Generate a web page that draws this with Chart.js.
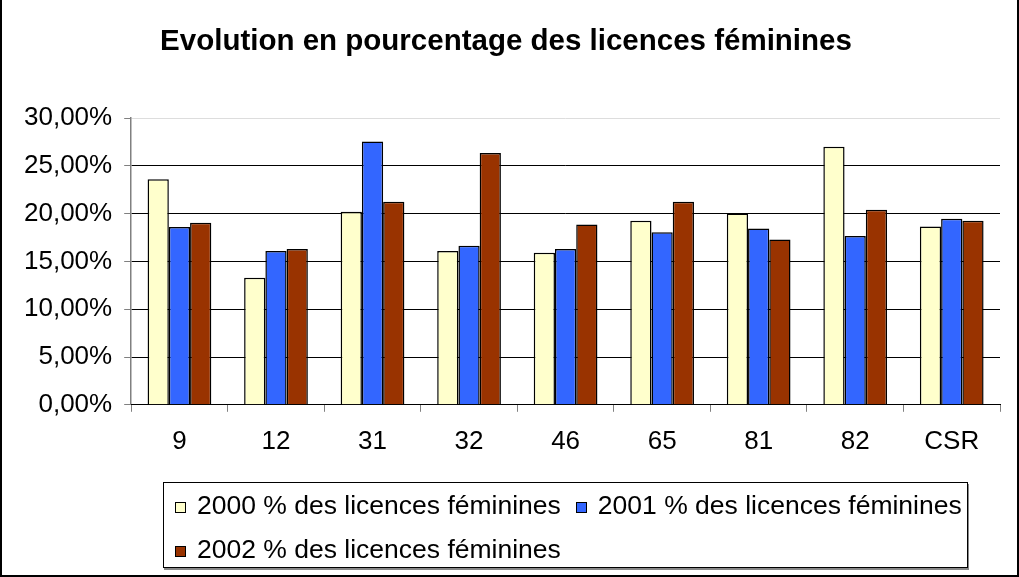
<!DOCTYPE html>
<html lang="fr">

<head>
    <meta charset="UTF-8">
    <title>Evolution en pourcentage des licences féminines</title>
    <script src="https://cdn.jsdelivr.net/npm/chart.js@4.4.1/dist/chart.umd.min.js"></script>
    <style>
        body { margin: 0; background: #fff; }
        .cadre {
            position: relative;
            width: 1019px;
            height: 577px;
            box-sizing: border-box;
            border-left: 2px solid #000;
            border-right: 2px solid #000;
            border-bottom: 2px solid #000;
            font-family: "Liberation Sans", Arial, sans-serif;
        }
        #grafico { position: absolute; left: -2px; top: 0; }
        .legende {
            position: absolute;
            left: 161px;
            top: 482px;
            width: 805px;
            height: 86px;
            box-sizing: border-box;
            border: 1px solid #000;
            box-shadow: 1px 2px 0 #888;
            padding: 0 0 0 11px;
            font-size: 26.5px;
            line-height: 44px;
            color: #000;
            white-space: nowrap;
        }
        .item { display: inline-block; margin-right: 15px; }
        .carre {
            display: inline-block;
            width: 9px;
            height: 9px;
            border: 1.5px solid #000;
            margin-right: 11px;
            vertical-align: 1px;
        }
    </style>
</head>

<body>
    <div class="cadre">
        <canvas id="grafico" width="1019" height="577"></canvas>
        <div class="legende" id="legende"></div>
    </div>

    <script>
        // données
        const departements = ['9', '12', '31', '32', '46', '65', '81', '82', 'CSR'];
        const series = ['2000 % des licences féminines', '2001 % des licences féminines', '2002 % des licences féminines'];
        const val2000 = [23.6, 13.3, 20.2, 16.1, 15.9, 19.25, 20.0, 27.0, 18.65];
        const val2001 = [18.6, 16.1, 27.55, 16.65, 16.3, 18.05, 18.45, 17.65, 19.45];
        const val2002 = [19.05, 16.3, 21.25, 26.35, 18.85, 21.25, 17.3, 20.4, 19.25];
        const couleurs = ['#FFFFCC', '#3366FF', '#993300'];

        const police = "'Liberation Sans', Arial, sans-serif";

        function formatPct(v) {
            return v.toFixed(2).replace('.', ',') + '%';
        }

        const donnees = [val2000, val2001, val2002];
        const datasets = series.map(function (nom, i) {
            return {
                label: nom,
                data: donnees[i],
                backgroundColor: couleurs[i],
                borderColor: '#000',
                borderWidth: 1.5,
                categoryPercentage: 0.66,
                barPercentage: 1
            };
        });

        const config = {
            type: 'bar',
            data: { labels: departements, datasets: datasets },
            options: {
                responsive: false,
                animation: false,
                layout: { padding: { left: 12, right: 19, top: 0, bottom: 106 } },
                plugins: {
                    legend: { display: false },
                    tooltip: { enabled: false },
                    title: {
                        display: true,
                        text: 'Evolution en pourcentage des licences féminines',
                        color: '#000',
                        font: { family: police, size: 29.5, weight: 'bold' },
                        padding: { top: 24, bottom: 58.6 }
                    }
                },
                scales: {
                    y: {
                        min: 0,
                        max: 30,
                        ticks: {
                            stepSize: 5,
                            color: '#000',
                            padding: 12,
                            font: { family: police, size: 26 },
                            callback: function (v) { return formatPct(v); }
                        },
                        grid: {
                            color: function (ctx) { return ctx.tick && ctx.tick.value === 30 ? '#ddd' : '#000'; },
                            tickColor: '#808080',
                            tickLength: 7,
                            lineWidth: 1
                        },
                        border: { color: '#808080', width: 1.5 }
                    },
                    x: {
                        ticks: {
                            color: '#000',
                            padding: 14,
                            font: { family: police, size: 26 }
                        },
                        grid: {
                            drawOnChartArea: false,
                            tickColor: '#808080',
                            tickLength: 7
                        },
                        border: { color: '#000', width: 1 }
                    }
                }
            }
        };

        const graf = new Chart(document.getElementById('grafico'), config);

        // légende HTML encadrée comme dans l'original (2 séries sur la 1re ligne)
        const leg = document.getElementById('legende');
        graf.data.datasets.forEach(function (ds, i) {
            const item = document.createElement('span');
            item.className = 'item';
            const carre = document.createElement('span');
            carre.className = 'carre';
            carre.style.background = ds.backgroundColor;
            item.appendChild(carre);
            item.appendChild(document.createTextNode(ds.label));
            leg.appendChild(item);
            if (i === 1) leg.appendChild(document.createElement('br'));
        });
    </script>
</body>

</html>
